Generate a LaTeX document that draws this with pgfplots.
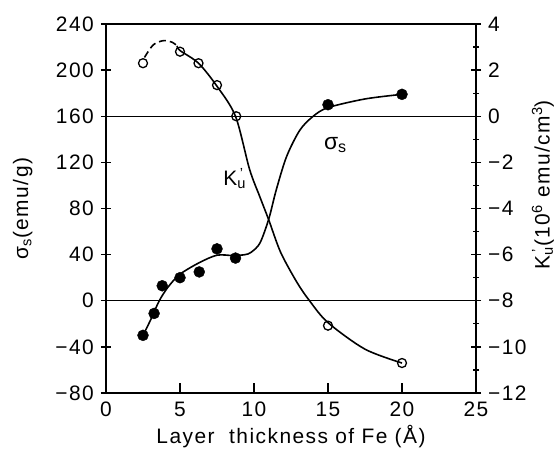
\documentclass[border=0pt]{standalone}
\usepackage{pgfplots}
\pgfplotsset{compat=1.18}
\usepackage{fontspec}
\setmainfont{Liberation Sans}[LetterSpace=7]

\newcommand{\lblfont}{\fontsize{21}{24}\selectfont}

\begin{document}
\lblfont
\begin{tikzpicture}
\path[use as bounding box] (-106bp,-62bp) rectangle (452bp,393bp);

\pgfplotsset{
  common/.style={
    at={(0,0)}, anchor=south west,
    scale only axis, width=370bp, height=369bp,
    xmin=0, xmax=25,
    axis line style={line width=1.5pt, black},
    every tick/.style={line width=1.3pt, black},
    tick label style={font=\lblfont},
    label style={font=\lblfont},
    /pgf/number format/assume math mode=true,
  }
}

% sigma_s axis (left)
\begin{axis}[common,
  ymin=-80, ymax=240,
  xtick={0,5,10,15,20,25},
  ytick={-80,-40,0,40,80,120,160,200,240},
  yticklabels={−80,−40,0,40,80,120,160,200,240},
  xtick pos=bottom, ytick pos=left,
  xtick align=inside, ytick align=center,
  major tick length=10bp,
  xticklabel style={yshift=-2bp},
  xlabel={Layer\ \ thickness of Fe (Å)},
  ylabel={σ\textsubscript{s}(emu/g)},
  ylabel style={at={(axis description cs:-0.225,0.5)}, anchor=center},
  xlabel style={at={(axis description cs:0.5,-0.119)}, anchor=center},
  clip=false,
]
\addplot[black, line width=1.4pt] coordinates {(0,160) (25,160)};
\addplot[black, line width=1.4pt] coordinates {(0,0) (25,0)};
% fitted curve
\addplot[black, line width=1.6pt, smooth, tension=0.5] coordinates {
  (2.5,-30) (3,-17) (3.6,0) (4.2,12) (5,23) (6.3,33) (7.5,39.5) (8.6,39.2)
  (9.4,40) (9.8,42) (10.4,50) (11,71) (11.5,96) (12.2,125) (13.1,148)
  (14,160) (15,167.5) (17.5,175) (20,179)};
% measured points
\addplot[only marks, mark=*, mark size=5.5bp, black] coordinates {
  (2.5,-30) (3.25,-11) (3.8,13) (5,20) (6.3,25) (7.5,45) (8.75,37) (15,170) (20,179)};
\node at (axis cs:8.7,106) {K\rlap{\textsuperscript{\,'}}\textsubscript{u}};
\node[font=\fontsize{23}{26}\selectfont] at (axis cs:15.5,135) {σ\textsubscript{s}};
\end{axis}

% K'_u axis (right)
\begin{axis}[common,
  ymin=-12, ymax=4,
  axis y line*=right, axis x line=none,
  ytick={-12,-10,-8,-6,-4,-2,0,2,4},
  yticklabels={−12,−10,−8,−6,−4,−2,0,2,4},
  minor ytick={-11,-9,-7,-5,-3,-1,1,3},
  ytick align=center,
  major tick length=10bp, minor tick length=6bp,
  ylabel={K\rlap{\textsuperscript{\,'}}\textsubscript{u}(10\textsuperscript{6} emu/cm\textsuperscript{3})},
  ylabel style={at={(axis description cs:1.181,0.564)}, anchor=center},
]
\addplot[black, line width=1.6pt, dashed, dash pattern=on 7bp off 4bp, smooth] coordinates {
  (2.6,2.55) (3.2,3.1) (3.9,3.28) (4.5,3.2) (4.8,3.05)};
\addplot[black, line width=1.6pt, smooth, tension=0.5] coordinates {
  (4.8,3.05) (5,2.85) (6.25,2.3) (7.5,1.3) (8.75,0) (9.7,-2.3) (10.4,-3.5)
  (11,-4.5) (11.8,-5.9) (12.9,-7.2) (13.75,-8) (15,-8.95) (17.5,-10.1) (20,-10.7)};
\addplot[only marks, mark=o, mark size=4.5bp, mark options={line width=1.3pt, fill=white}, black] coordinates {
  (2.5,2.3) (5,2.8) (6.25,2.3) (7.5,1.35) (8.8,0) (15,-9.08) (20,-10.7)};
\end{axis}
\end{tikzpicture}
\end{document}
